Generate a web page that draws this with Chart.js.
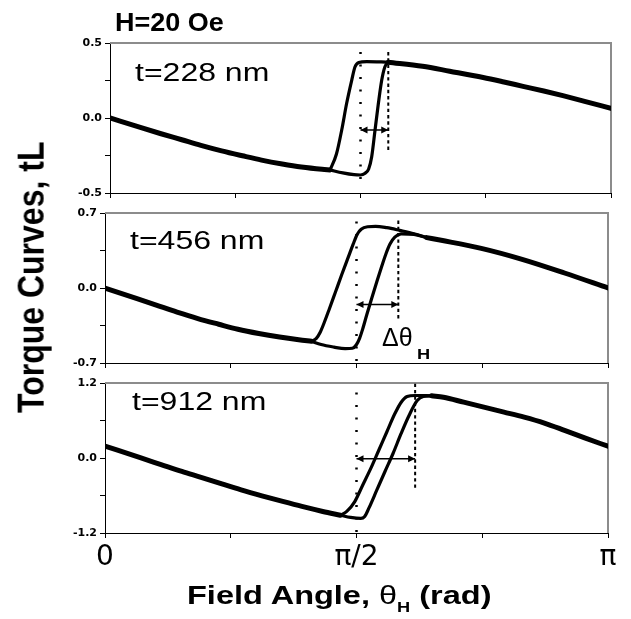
<!DOCTYPE html>
<html>
<head>
<meta charset="utf-8">
<script src="https://cdn.jsdelivr.net/npm/chart.js@4.4.0/dist/chart.umd.min.js"></script>
<style>
  body { margin: 0; background: #fff; }
  #wrap { position: relative; width: 631px; height: 619px; overflow: hidden; font-family: "Liberation Sans", Arial, sans-serif; color: #000; }
  canvas { position: absolute; left: 0; }
  .lbl { position: absolute; left: 0; top: 0; white-space: nowrap; line-height: 1; transform-origin: 0 0; }
</style>
</head>
<body>
<div id="wrap">
  <canvas id="c1" width="631" height="170" style="top:33px"></canvas>
  <canvas id="c2" width="631" height="170" style="top:203px"></canvas>
  <canvas id="c3" width="631" height="246" style="top:373px"></canvas>

  <div class="lbl" style="left:115px;top:10px;font-size:25px;font-weight:bold;transform:scaleX(1.08)">H=20 Oe</div>
  <div class="lbl" style="left:135px;top:60px;font-size:25px;transform:scaleX(1.28)">t=228 nm</div>
  <div class="lbl" style="left:130px;top:227.5px;font-size:25px;transform:scaleX(1.28)">t=456 nm</div>
  <div class="lbl" style="left:132px;top:388.5px;font-size:25px;transform:scaleX(1.28)">t=912 nm</div>
  <div class="lbl" style="left:382px;top:325px;font-size:25px">Δθ</div>
  <div class="lbl" style="left:416.5px;top:346.5px;font-size:14px;font-weight:bold;transform:scaleX(1.3)">H</div>

  <div class="lbl" style="font-size:32px;font-weight:bold;transform:translate(12px,413px) rotate(-90deg) scaleY(1.18)">Torque Curves, tL</div>
  <div class="lbl" style="left:187px;top:583.4px;font-size:25px;font-weight:bold;transform:scaleX(1.3)">Field Angle, <span style="font-weight:normal">θ</span><span style="font-size:14px;position:relative;top:8px">H</span> (rad)</div>
</div>

<script>
const PI = Math.PI;

// x axis: field angle in rad
const xTicks = [0, PI / 4, PI / 2, 3 * PI / 4, PI];
const xTickLabels = ["0", "", "π/2", "", "π"];

// t = 228 nm  ([angle, torque])
const yTicks1 = [-0.5, -0.25, 0, 0.25, 0.5];
const yLabels1 = ["-0.5", "", "0.0", "", "0.5"];
const left1 = [[0, 0.0], [0.19, -0.063], [0.32, -0.105], [0.45, -0.145], [0.57, -0.182], [0.70, -0.219], [0.83, -0.252], [0.95, -0.281], [1.08, -0.307], [1.20, -0.327], [1.33, -0.342], [1.38, -0.346]];
const upper1 = [[1.38, -0.346], [1.42, -0.24], [1.453, -0.08], [1.484, 0.098], [1.516, 0.253], [1.536, 0.34], [1.56, 0.37], [1.61, 0.376], [1.70, 0.374], [1.745, 0.372]];
const lower1 = [[1.38, -0.346], [1.46, -0.366], [1.53, -0.378], [1.57, -0.38], [1.60, -0.368], [1.622, -0.34], [1.641, -0.258], [1.662, -0.08], [1.683, 0.098], [1.704, 0.253], [1.724, 0.342], [1.745, 0.372]];
const right1 = [[1.745, 0.372], [1.96, 0.345], [2.13, 0.312], [2.34, 0.27], [2.47, 0.24], [2.59, 0.211], [2.72, 0.18], [2.84, 0.149], [2.97, 0.113], [PI, 0.064]];
const dotted1 = [[PI / 2, 0.44], [PI / 2, -0.42]];
const dashed1 = [[1.745, 0.44], [1.745, -0.23]];
const arrow1 = [[PI / 2, -0.08], [1.745, -0.08]];

// t = 456 nm
const yTicks2 = [-0.7, -0.35, 0, 0.35, 0.7];
const yLabels2 = ["-0.7", "", "0.0", "", "0.7"];
const left2 = [[0, 0.0], [0.20, -0.10], [0.32, -0.16], [0.45, -0.225], [0.58, -0.285], [0.71, -0.338], [0.83, -0.385], [0.96, -0.425], [1.09, -0.458], [1.21, -0.483], [1.29, -0.497]];
const upper2 = [[1.29, -0.497], [1.32, -0.47], [1.345, -0.41], [1.37, -0.32], [1.40, -0.20], [1.44, -0.035], [1.48, 0.13], [1.52, 0.29], [1.55, 0.41], [1.575, 0.50], [1.60, 0.548], [1.64, 0.572], [1.69, 0.576], [1.76, 0.563], [1.84, 0.538], [1.93, 0.507], [2.01, 0.47]];
const lower2 = [[1.29, -0.497], [1.35, -0.528], [1.43, -0.552], [1.50, -0.566], [1.545, -0.562], [1.57, -0.53], [1.59, -0.47], [1.61, -0.38], [1.635, -0.25], [1.665, -0.10], [1.70, 0.07], [1.73, 0.21], [1.755, 0.32], [1.78, 0.41], [1.81, 0.475], [1.85, 0.505], [1.93, 0.50], [2.01, 0.47]];
const right2 = [[2.01, 0.47], [2.10, 0.445], [2.35, 0.37], [2.60, 0.27], [2.87, 0.14], [PI, 0.0]];
const dotted2 = [[PI / 2, 0.62], [PI / 2, -0.70]];
const dashed2 = [[1.832, 0.63], [1.832, -0.30]];
const arrow2 = [[PI / 2, -0.155], [1.832, -0.155]];

// t = 912 nm
const yTicks3 = [-1.2, -0.6, 0, 0.6, 1.2];
const yLabels3 = ["-1.2", "", "0.0", "", "1.2"];
const left3 = [[0, 0.19], [0.22, 0.005], [0.35, -0.105], [0.48, -0.215], [0.60, -0.31], [0.73, -0.415], [0.85, -0.51], [0.98, -0.605], [1.11, -0.695], [1.23, -0.775], [1.36, -0.855], [1.47, -0.915]];
const upper3 = [[1.47, -0.915], [1.51, -0.855], [1.56, -0.697], [1.61, -0.432], [1.66, -0.167], [1.71, 0.124], [1.76, 0.416], [1.81, 0.707], [1.85, 0.893], [1.887, 0.983], [1.937, 1.0], [2.04, 0.995]];
const lower3 = [[1.47, -0.915], [1.534, -0.951], [1.597, -0.967], [1.622, -0.935], [1.648, -0.803], [1.698, -0.511], [1.748, -0.22], [1.799, 0.072], [1.849, 0.389], [1.899, 0.681], [1.95, 0.919], [1.988, 0.983], [2.04, 0.995]];
const right3 = [[2.04, 0.995], [2.114, 0.972], [2.24, 0.893], [2.366, 0.813], [2.492, 0.734], [2.618, 0.654], [2.744, 0.559], [2.87, 0.442], [2.996, 0.321], [PI, 0.188]];
const dotted3 = [[PI / 2, 1.05], [PI / 2, -1.2]];
const dashed3 = [[1.937, 1.19], [1.937, -0.52]];
const arrow3 = [[PI / 2, -0.01], [1.937, -0.01]];

// grey top/right frame like the original plot box
const frame = {
  id: "frame",
  beforeDatasetsDraw(chart) {
    const { ctx, chartArea: a } = chart;
    ctx.save();
    ctx.strokeStyle = "#8c8c8c";
    ctx.lineWidth = 2;
    ctx.beginPath();
    ctx.moveTo(a.left, a.top);
    ctx.lineTo(a.right, a.top);
    ctx.lineTo(a.right, a.bottom);
    ctx.stroke();
    ctx.restore();
  }
};

// heads on both ends of the delta-theta arrow
const arrowHeads = {
  id: "arrowHeads",
  afterDatasetsDraw(chart) {
    const ctx = chart.ctx;
    chart.data.datasets.forEach((ds, i) => {
      if (!ds.arrow) return;
      const [a, b] = chart.getDatasetMeta(i).data;
      ctx.save();
      ctx.fillStyle = "#000";
      [[a, -1], [b, 1]].forEach(([p, dir]) => {
        ctx.beginPath();
        ctx.moveTo(p.x, p.y);
        ctx.lineTo(p.x - dir * 7, p.y - 3.5);
        ctx.lineTo(p.x - dir * 7, p.y + 3.5);
        ctx.closePath();
        ctx.fill();
      });
      ctx.restore();
    });
  }
};

const pts = arr => arr.map(([x, y]) => ({ x, y }));

function curve(arr, w) {
  return {
    data: pts(arr), borderColor: "#000", borderWidth: w, pointRadius: 0,
    cubicInterpolationMode: "monotone", borderCapStyle: "round", borderJoinStyle: "round"
  };
}

function makePanel(id, p) {
  new Chart(document.getElementById(id), {
    type: "line",
    data: {
      datasets: [
        curve(p.left, 5),
        curve(p.right, 5),
        curve(p.upper, 3.2),
        curve(p.lower, 3.2),
        { data: pts(p.dotted), borderColor: "#000", borderWidth: 2.5, borderDash: [2, 10.5], pointRadius: 0 },
        { data: pts(p.dashed), borderColor: "#000", borderWidth: 2, borderDash: [3.4, 2.9], pointRadius: 0 },
        { data: pts(p.arrow), borderColor: "#000", borderWidth: 1.5, pointRadius: 0, arrow: true }
      ]
    },
    options: {
      responsive: false,
      animation: false,
      events: [],
      layout: { padding: p.pad },
      plugins: { legend: { display: false }, tooltip: { enabled: false } },
      scales: {
        x: {
          type: "linear", min: 0, max: PI,
          afterBuildTicks: s => { s.ticks = xTicks.map(v => ({ value: v })); },
          afterFit: s => { s.height = p.xHeight; },
          ticks: {
            autoSkip: false, maxRotation: 0, padding: 3, color: "#000",
            font: { family: "DejaVu Sans", size: 28 },
            callback: (v, i) => p.showX ? xTickLabels[i] : ""
          },
          grid: { drawOnChartArea: false, tickLength: 5, color: "#000" },
          border: { color: "#000", width: 1 }
        },
        y: {
          min: p.yTicks[0], max: p.yTicks[p.yTicks.length - 1],
          afterBuildTicks: s => { s.ticks = p.yTicks.map(v => ({ value: v })); },
          afterFit: s => { s.width = 60; },
          ticks: {
            autoSkip: false, padding: 3, color: "#000",
            font: { family: "DejaVu Sans", size: 11, weight: "bold" },
            callback: (v, i) => p.yLabels[i]
          },
          grid: { drawOnChartArea: false, tickLength: 5, color: "#000" },
          border: { color: "#000", width: 1 }
        }
      }
    },
    plugins: [frame, arrowHeads]
  });
}

makePanel("c1", {
  left: left1, upper: upper1, lower: lower1, right: right1,
  dotted: dotted1, dashed: dashed1, arrow: arrow1,
  yTicks: yTicks1, yLabels: yLabels1, showX: false, xHeight: 10,
  pad: { top: 10, left: 50, right: 20, bottom: 0 }
});

makePanel("c2", {
  left: left2, upper: upper2, lower: lower2, right: right2,
  dotted: dotted2, dashed: dashed2, arrow: arrow2,
  yTicks: yTicks2, yLabels: yLabels2, showX: false, xHeight: 10,
  pad: { top: 10, left: 45, right: 23, bottom: 0 }
});

makePanel("c3", {
  left: left3, upper: upper3, lower: lower3, right: right3,
  dotted: dotted3, dashed: dashed3, arrow: arrow3,
  yTicks: yTicks3, yLabels: yLabels3, showX: true, xHeight: 86,
  pad: { top: 10, left: 45, right: 23, bottom: 0 }
});
</script>
</body>
</html>
